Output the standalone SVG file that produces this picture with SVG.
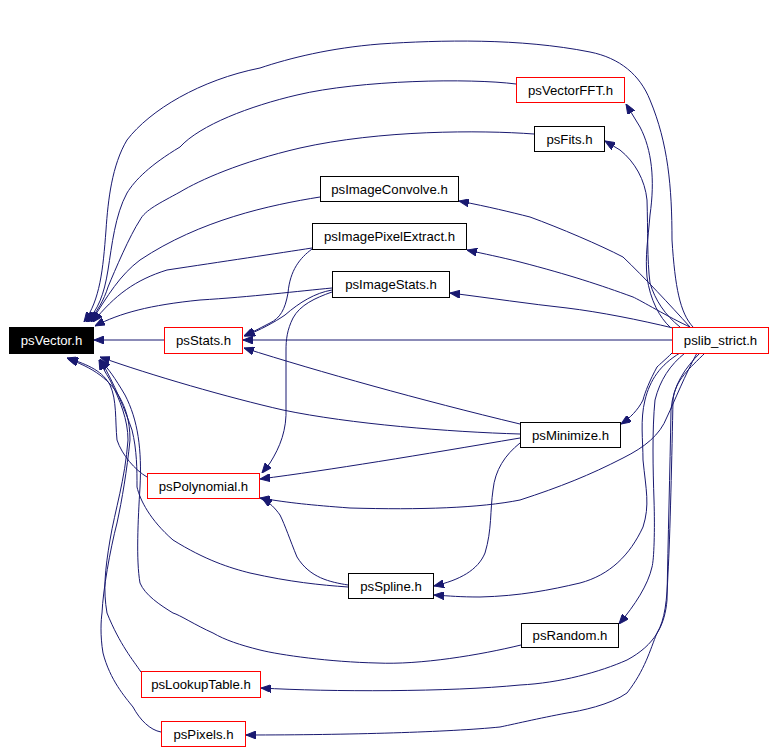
<svg xmlns="http://www.w3.org/2000/svg" width="775" height="756" viewBox="0 0 775 756">
<defs>
<marker id="ah" viewBox="0 0 10 8" refX="10" refY="4" markerWidth="10" markerHeight="8" markerUnits="userSpaceOnUse" orient="auto">
<path d="M0,0 L10,4 L0,8 z" fill="#191970" stroke="#191970" stroke-width="1"/>
</marker>
</defs>
<style>
.e{fill:none;stroke:#191970;stroke-width:1;marker-end:url(#ah)}
.n rect{fill:#fff;stroke:#000;stroke-width:1}
.r rect{stroke:#ff0000}
.n text{font-family:"Liberation Sans",Arial,sans-serif;font-size:13.2px;text-anchor:middle;fill:#000}
#psVector rect{fill:#000}
#psVector text{fill:#fff}
</style>
<rect width="775" height="756" fill="#fff"/>
<g id="edges">
<path class="e" d="M693,327 C680,313 675,287 672,240 C672,187 668,143 650,100 C640,75 620,58 590,52 C520,38 440,40 380,44 C330,48 290,58 260,68 C200,80 150,110 127,140 C112,165 108,200 106,230 C103,270 100,300 84,322"/>
<path class="e" d="M516,84 C470,78 360,80 297,95 C250,106 200,125 180,147 C150,165 135,180 127,193 C115,215 112,245 108,270 C104,295 98,310 86,322"/>
<path class="e" d="M534,134 C480,130 380,130 300,148 C240,162 200,180 180,192 C160,203 145,210 140,220 C130,235 115,270 108,287 C104,300 97,312 88,322"/>
<path class="e" d="M320,197 C270,205 200,220 140,260 C120,275 108,295 91,322"/>
<path class="e" d="M312,248 C280,253 220,262 167,270 C135,280 115,295 93,322"/>
<path class="e" d="M332,288 C300,291 250,297 200,300 C150,305 120,313 95,326"/>
<path class="e" d="M164,340 L94,340"/>
<path class="e" d="M672,340 L243,340"/>
<path class="e" d="M670,327 C660,318 650,300 647,277 C645,255 648,240 650,215 C655,180 652,150 640,127 L626,104"/>
<path class="e" d="M680,327 C665,315 655,300 650,283 C647,260 648,230 647,200 C645,180 635,162 620,150 L605,141"/>
<path class="e" d="M690,327 C670,305 645,278 623,257 C600,245 560,228 530,217 C510,212 490,207 459,201"/>
<path class="e" d="M690,327 C670,318 640,300 633,297 C600,285 570,275 520,262 C500,257 485,254 467,250"/>
<path class="e" d="M673,328 C640,320 600,312 567,308 C530,304 490,298 450,293"/>
<path class="e" d="M312,249 C300,258 290,270 288,293 C285,310 280,318 270,323 C262,327 255,331 244,336"/>
<path class="e" d="M332,290 C315,293 300,302 285,315 C275,322 260,330 245,336"/>
<path class="e" d="M332,292 C315,298 300,305 293,318 C287,330 286,340 286,350 L286,407 C287,430 280,447 270,463 L262,473"/>
<path class="e" d="M520,424 C420,400 320,372 244,348"/>
<path class="e" d="M520,434 C450,432 350,424 283,410 C230,398 150,375 100,357"/>
<path class="e" d="M520,438 C420,455 330,470 260,479"/>
<path class="e" d="M520,443 C505,455 495,470 493,490 C490,510 492,530 485,553 C478,570 460,580 434,586"/>
<path class="e" d="M672,353 C665,360 660,364 657,367 C650,380 645,392 643,400 C638,410 630,418 621,424"/>
<path class="e" d="M697,353 C685,375 675,400 667,417 C660,435 645,447 623,458 C590,475 560,487 520,500 C480,508 420,510 350,508 C310,505 290,503 260,498"/>
<path class="e" d="M680,353 C660,365 650,380 645,400 C640,420 643,440 643,460 C646,490 650,505 643,527 C630,555 610,575 580,583 C550,590 520,596 480,597 C460,597 450,596 434,595"/>
<path class="e" d="M685,353 C670,365 660,380 655,400 C652,430 653,470 654,500 C655,530 654,560 652,567 C648,585 635,605 619,624"/>
<path class="e" d="M700,353 C685,368 673,385 671,410 C670,470 668,540 667,600 C665,625 655,645 627,660 C600,672 560,683 520,685 C450,692 330,692 261,688"/>
<path class="e" d="M705,353 C690,368 675,380 673,400 C672,450 670,540 668,573 C667,600 665,620 657,633 C650,650 645,670 627,693 C610,705 580,711 567,713 C540,718 510,725 500,727 C450,732 350,735 246,735"/>
<path class="e" d="M348,587 C320,585 290,582 250,573 C230,568 205,560 173,540 C150,520 140,500 137,487 C137,470 137,450 132,430 C125,410 115,385 100,359"/>
<path class="e" d="M348,585 C330,582 310,578 297,557 C290,540 285,525 280,515 C275,508 270,503 262,498"/>
<path class="e" d="M521,645 C480,655 420,665 377,663 C330,662 280,655 260,650 C240,645 225,640 213,633 C195,625 180,615 173,613 C160,605 145,595 140,583 C136,560 138,520 140,487 C142,450 138,420 125,395 C115,378 108,368 100,360"/>
<path class="e" d="M141,672 C133,660 120,645 107,613 C103,590 105,570 110,540 C115,510 125,480 128,440 C128,420 120,400 110,380 C105,372 102,366 99,360"/>
<path class="e" d="M161,732 C150,730 140,720 133,707 C125,697 110,680 103,653 C100,635 101,620 102,613 C103,590 110,550 117,523 C122,500 127,470 130,440 C130,420 125,407 120,398 C113,385 100,370 68,359"/>
<path class="e" d="M147,477 C135,470 122,455 117,440 C115,420 117,400 110,385 C103,372 90,365 67,358"/>
</g>
<g id="psVector" class="n"><rect x="9.5" y="327.5" width="84" height="26"/><text x="51.5" y="345">psVector.h</text></g>
<g id="psStats" class="n r"><rect x="164.5" y="327.5" width="78" height="26"/><text x="203.5" y="345">psStats.h</text></g>
<g id="psVectorFFT" class="n r"><rect x="516.5" y="77.5" width="108" height="25"/><text x="570.5" y="94.5">psVectorFFT.h</text></g>
<g id="psFits" class="n"><rect x="534.5" y="126.5" width="70" height="25"/><text x="569.5" y="143.5">psFits.h</text></g>
<g id="psImageConvolve" class="n"><rect x="320.5" y="176.5" width="138" height="25"/><text x="389.5" y="193.5">psImageConvolve.h</text></g>
<g id="psImagePixelExtract" class="n"><rect x="312.5" y="223.5" width="154" height="26"/><text x="389.5" y="241">psImagePixelExtract.h</text></g>
<g id="psImageStats" class="n"><rect x="332.5" y="271.5" width="117" height="26"/><text x="391" y="289">psImageStats.h</text></g>
<g id="pslib_strict" class="n r"><rect x="672.5" y="327.5" width="96" height="26"/><text x="720.5" y="345">pslib_strict.h</text></g>
<g id="psMinimize" class="n"><rect x="520.5" y="422.5" width="100" height="25"/><text x="570.5" y="439.5">psMinimize.h</text></g>
<g id="psPolynomial" class="n r"><rect x="147.5" y="473.5" width="112" height="25"/><text x="203.5" y="490.5">psPolynomial.h</text></g>
<g id="psSpline" class="n"><rect x="348.5" y="573.5" width="85" height="25"/><text x="391" y="590.5">psSpline.h</text></g>
<g id="psRandom" class="n"><rect x="521.5" y="623.5" width="97" height="24"/><text x="570" y="640">psRandom.h</text></g>
<g id="psLookupTable" class="n r"><rect x="141.5" y="671.5" width="119" height="26"/><text x="201" y="689">psLookupTable.h</text></g>
<g id="psPixels" class="n r"><rect x="161.5" y="721.5" width="84" height="25"/><text x="203.5" y="738.5">psPixels.h</text></g>
</svg>
